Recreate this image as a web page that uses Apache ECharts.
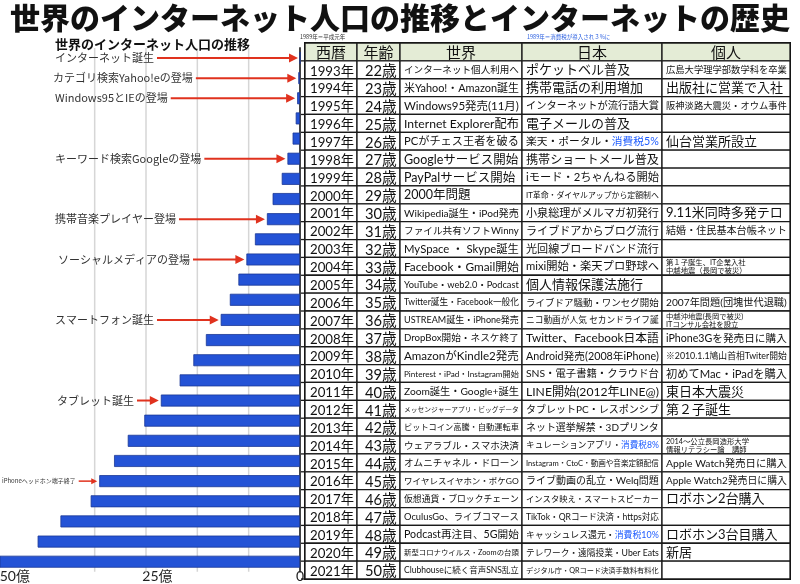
<!DOCTYPE html>
<html><head><meta charset="utf-8">
<script src="https://cdn.jsdelivr.net/npm/echarts@6/dist/echarts.min.js"></script>
<style>html,body{margin:0;padding:0;background:#fff}#c{width:800px;height:584px}</style>
</head><body><div id="c"></div>
<script>
// ---------- data ----------
const barYears = ['1993','1994','1995','1996','1997','1998','1999','2000','2001','2002','2003','2004','2005',
  '2006','2007','2008','2009','2010','2011','2012','2013','2014','2015','2016','2017','2018'];
// internet users, 億人
const userCounts = [0, 0.3, 0.5, 0.75, 1.3, 2.2, 3.2, 4.8, 5.8, 7.9, 9.4, 10.8, 12.3,
  13.9, 16.5, 18.7, 21.1, 24.4, 27.3, 30.2, 32.6, 35.2, 36.7, 42.0, 46.0, 53.0];
const tickLabels = {0: '0', 25: '25億', 50: '50億'};
const gridLineValues = [9, 18, 27, 36];

const annotationYears = ['1993','1994','1995','1998','2001','2003','2006','2010','2014'];
const annotationTexts = ['インターネット誕生','カテゴリ検索Yahoo!eの登場','Windows95とIEの登場',
  'キーワード検索Googleの登場','携帯音楽プレイヤー登場','ソーシャルメディアの登場',
  'スマートフォン誕生','タブレット誕生','iPhoneヘッドホン端子終了'];

const headers = ['西暦','年齢','世界','日本','個人'];
const years = ['1993年','1994年','1995年','1996年','1997年','1998年','1999年','2000年','2001年','2002年',
  '2003年','2004年','2005年','2006年','2007年','2008年','2009年','2010年','2011年','2012年','2013年',
  '2014年','2015年','2016年','2017年','2018年','2019年','2020年','2021年'];
const ages = ['22歳','23歳','24歳','25歳','26歳','27歳','28歳','29歳','30歳','31歳','32歳','33歳','34歳',
  '35歳','36歳','37歳','38歳','39歳','40歳','41歳','42歳','43歳','44歳','45歳','46歳','47歳','48歳','49歳','50歳'];
const worldEvents = [
  'インターネット個人利用へ','米Yahoo!・Amazon誕生','Windows95発売(11月)','Internet Explorer配布',
  'PCがチェス王者を破る','Googleサービス開始','PayPalサービス開始','2000年問題','Wikipedia誕生・iPod発売',
  'ファイル共有ソフトWinny','MySpace ・ Skype誕生','Facebook・Gmail開始','YouTube・web2.0・Podcast',
  'Twitter誕生・Facebook一般化','USTREAM誕生・iPhone発売','DropBox開始・ネスケ終了','AmazonがKindle2発売',
  'Pinterest・iPad・Instagram開始','Zoom誕生・Google+誕生','メッセンジャーアプリ・ビッグデータ',
  'ビットコイン高騰・自動運転車','ウェアラブル・スマホ決済','オムニチャネル・ドローン','ワイヤレスイヤホン・ポケGO',
  '仮想通貨・ブロックチェーン','OculusGo、ライブコマース','Podcast再注目、5G開始','新型コロナウイルス・Zoomの台頭',
  'Clubhouseに続く音声SNS乱立'];
const japanEvents = [
  'ポケットベル普及','携帯電話の利用増加','インターネットが流行語大賞','電子メールの普及',
  '楽天・ポータル・{b|消費税5%}','携帯ショートメール普及','iモード・2ちゃんねる開始','IT革命・ダイヤルアップから定額制へ',
  '小泉総理がメルマガ初発行','ライブドアからブログ流行','光回線ブロードバンド流行','mixi開始・楽天プロ野球へ',
  '個人情報保護法施行','ライブドア騒動・ワンセグ開始','ニコ動画が人気 セカンドライフ誕','Twitter、Facebook日本語',
  'Android発売(2008年iPhone)','SNS・電子書籍・クラウド台','LINE開始(2012年LINE@)','タブレットPC・レスポンシブ',
  'ネット選挙解禁・3Dプリンタ','キュレーションアプリ・{b|消費税8%}','Instagram・CtoC・動画や音楽定額配信',
  'ライブ動画の乱立・Welq問題','インスタ映え・スマートスピーカー','TikTok・QRコード決済・https対応',
  'キャッシュレス還元・{b|消費税10%}','テレワーク・遠隔授業・Uber Eats','デジタル庁・QRコード決済手数料有料化'];
const personalEvents = [
  '広島大学理学部数学科を卒業','出版社に営業で入社','阪神淡路大震災・オウム事件','','仙台営業所設立','','','',
  '9.11米同時多発テロ','結婚・住民基本台帳ネット','','第１子誕生、IT企業入社\n中越地震（長岡で被災）','',
  '2007年問題(団塊世代退職)','中越沖地震(長岡で被災)\nITコンサル会社を設立','iPhone3Gを発売日に購入',
  '※2010.1.1鳩山首相Twiter開始','初めてMac・iPadを購入','東日本大震災','第２子誕生','',
  '2014〜公立長岡造形大学\n情報リテラシー論　講師','Apple Watch発売日に購入','Apple Watch2発売日に購入',
  'ロボホン2台購入','','ロボホン3台目購入','新居',''];

// ---------- layout ----------
const FAM = "Lato, 'Noto Sans CJK JP', sans-serif";
const JFAM = "'Noto Sans CJK JP', sans-serif";
const tableCols = [0, 52, 95, 217, 357, 485];
const colPad = [5, 8, 4, 4, 4];
const colMaxFont = [16, 15, 12.5, 13, 13];
const annotationLeft = [55, 53, 55, 55, 55, 58, 55, 57, 2];
const annotationFont = [11, 11, 11, 11, 11, 11, 11, 11, 6];

const rows = [headers].concat(years.map((y, i) => [y, ages[i], worldEvents[i], japanEvents[i], personalEvents[i]]));
const rowNames = rows.map(r => r[0]);
const tableData = [];
rows.forEach((row, r) => row.forEach((t, c) => tableData.push([c, r])));

const mctx = document.createElement('canvas').getContext('2d');
function textW(t, size, fam) { mctx.font = size + 'px ' + fam; return mctx.measureText(t).width; }
function fitSize(t, maxSize, availW, availH, fam) {
  const plain = t.replace(/\{b\|([^}]*)\}/g, '$1');
  const lines = plain.split('\n');
  const w = Math.max.apply(null, lines.map(l => textW(l, maxSize, fam)));
  let s = maxSize;
  if (w > availW) s = maxSize * availW / w;
  return Math.min(s, availH / (lines.length * 1.08));
}

const annoData = annotationYears.map((y, i) => [userCounts[barYears.indexOf(y)], barYears.indexOf(y), i]);

const chart = echarts.init(document.getElementById('c'));
chart.setOption({
  animation: false,
  backgroundColor: '#fff',
  title: [
    {text: '世界のインターネット人口の推移とインターネットの歴史', left: 'center', top: 3, padding: 0,
      textStyle: {fontFamily: JFAM, fontWeight: 900, fontSize: 30, color: '#111'}},
    {text: '世界のインターネット人口の推移', left: 55, top: 38, padding: 0,
      textStyle: {fontFamily: JFAM, fontWeight: 'bold', fontSize: 13, color: '#111'}},
    {text: '1989年＝平成元年', left: 300, top: 34, padding: 0, textStyle: {fontFamily: JFAM, fontSize: 5.5, color: '#333', fontWeight: 'normal'}},
    {text: '1989年＝消費税が導入され３%に', left: 527, top: 34, padding: 0, textStyle: {fontFamily: JFAM, fontSize: 5.5, color: '#2a5fe0', fontWeight: 'normal'}}
  ],
  grid: [
    {left: 0, top: 47.9, width: 300, bottom: 12.2, outerBoundsMode: 'none', containLabel: false},
    {left: 305, right: 10, top: 43, bottom: 5, outerBoundsMode: 'none', containLabel: false,
      show: true, borderColor: '#111', borderWidth: 2, backgroundColor: 'transparent'}
  ],
  xAxis: [
    {gridIndex: 0, type: 'value', inverse: true, min: 0, max: 52.6, interval: 25,
      axisLine: {show: false}, axisTick: {show: false}, splitLine: {show: false},
      axisLabel: {margin: -2, fontSize: 14, color: '#222', fontFamily: FAM, hideOverlap: false,
        formatter: v => (tickLabels[v] !== undefined ? tickLabels[v] : '')}},
    {gridIndex: 1, type: 'value', min: 0, max: 485, show: false}
  ],
  yAxis: [
    {gridIndex: 0, type: 'category', data: barYears, inverse: true, position: 'right',
      axisLine: {show: true, lineStyle: {color: '#444', width: 2}}, axisTick: {show: false}, axisLabel: {show: false}},
    {gridIndex: 1, type: 'category', data: rowNames, inverse: true, show: false}
  ],
  series: [
    {type: 'custom', xAxisIndex: 0, yAxisIndex: 0, data: gridLineValues.map(v => [v, 0]), z: 1, silent: true,
      renderItem: (params, api) => {
        const x = api.coord([api.value(0), 0])[0];
        const top = params.coordSys.y, h = params.coordSys.height;
        return {type: 'line', shape: {x1: x, y1: top, x2: x, y2: top + h},
          style: {stroke: '#d6d6d6', lineWidth: 1.5}};
      }},
    {type: 'bar', xAxisIndex: 0, yAxisIndex: 0, data: userCounts, barWidth: 12, clip: true, z: 2,
      itemStyle: {color: '#2453d6', borderColor: '#1a3796', borderWidth: 0.8}},
    {type: 'custom', xAxisIndex: 0, yAxisIndex: 0, data: annoData, z: 5,
      renderItem: (params, api) => {
        const i = api.value(2);
        const p = api.coord([api.value(0), api.value(1)]);
        const txt = annotationTexts[i], fs = annotationFont[i], left = annotationLeft[i];
        const tw = textW(txt, fs, JFAM);
        const tip = p[0] - 2, y = p[1];
        const start = left + tw + 3;
        const hl = fs < 8 ? 6 : 9, hw = fs < 8 ? 3 : 4.5;
        return {type: 'group', children: [
          {type: 'text', style: {text: txt, x: left, y: y, align: 'left', verticalAlign: 'middle',
            fontSize: fs, fontFamily: JFAM, fill: '#333'}},
          {type: 'line', shape: {x1: start, y1: y, x2: tip - hl + 1, y2: y},
            style: {stroke: '#e0321e', lineWidth: fs < 8 ? 1.5 : 2}},
          {type: 'polygon', shape: {points: [[tip, y], [tip - hl, y - hw], [tip - hl, y + hw]]},
            style: {fill: '#e0321e'}}
        ]};
      }},
    {type: 'custom', xAxisIndex: 1, yAxisIndex: 1, data: tableData, z: 3,
      renderItem: (params, api) => {
        const c = api.value(0), r = api.value(1);
        const pL = api.coord([tableCols[c], r]);
        const pR = api.coord([tableCols[c + 1], r]);
        const h = api.size([0, 1])[1];
        const x0 = pL[0], x1 = pR[0], yc = pL[1], y0 = yc - h / 2;
        const txt = rows[r][c];
        const isHead = r === 0;
        const children = [{type: 'rect', shape: {x: x0, y: y0, width: x1 - x0, height: h},
          style: {fill: isHead ? '#e4ecd6' : '#fff', stroke: '#1a1a1a', lineWidth: 1.3}}];
        if (c === 0) children.push({type: 'line', shape: {x1: x0 - 4, y1: y0 + h, x2: x0, y2: y0 + h},
          style: {stroke: '#1a1a1a', lineWidth: 1.3}});
        if (txt) {
          const fam = isHead ? JFAM : FAM;
          const size = isHead ? 15 : fitSize(txt, colMaxFont[c], x1 - x0 - colPad[c] - 3, h - 2, fam);
          children.push({type: 'text', style: {
            text: txt, x: isHead ? (x0 + x1) / 2 : x0 + colPad[c], y: yc + (c < 2 && !isHead ? 1.5 : 0.5),
            align: isHead ? 'center' : 'left', verticalAlign: 'middle',
            fontSize: size, fontFamily: fam, fill: '#111', lineHeight: size * 1.05,
            rich: {b: {fill: '#1e5cff', fontSize: size, fontFamily: fam}}}});
        }
        return {type: 'group', children: children};
      }}
  ]
});
</script></body></html>
